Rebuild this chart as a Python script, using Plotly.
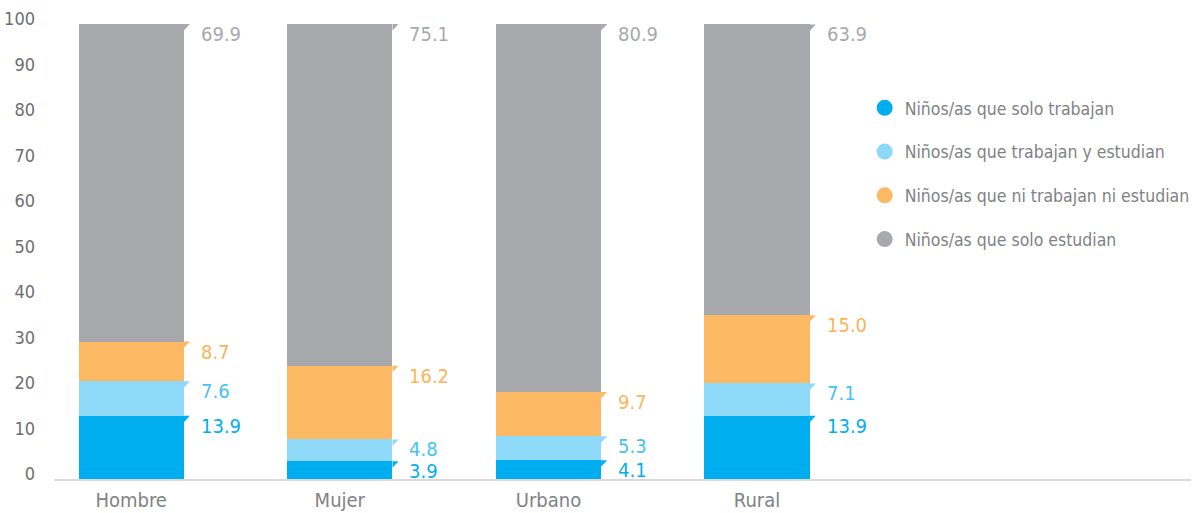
import plotly.graph_objects as go

# Data: percentage of children by activity, per group
categories = ["Hombre", "Mujer", "Urbano", "Rural"]
series_names = [
    "Niños/as que solo trabajan",
    "Niños/as que trabajan y estudian",
    "Niños/as que ni trabajan ni estudian",
    "Niños/as que solo estudian",
]
solo_trabajan = [13.9, 3.9, 4.1, 13.9]
trabajan_estudian = [7.6, 4.8, 5.3, 7.1]
ni_ni = [8.7, 16.2, 9.7, 15.0]
solo_estudian = [69.9, 75.1, 80.9, 63.9]
y_ticks = [0, 10, 20, 30, 40, 50, 60, 70, 80, 90, 100]

series_values = [solo_trabajan, trabajan_estudian, ni_ni, solo_estudian]
bar_colors = ["#00AEEF", "#8ED8F8", "#FDB863", "#A7A9AC"]
label_colors = ["#00AEEF", "#45C3F2", "#FBB45C", "#A7A9AC"]

FONT = "DejaVu Sans Condensed, Liberation Sans Narrow, Roboto, sans-serif"

W, H = 1195, 513
M_L, M_R, M_T, M_B = 54, 4, 24, 34
X_RANGE = [-0.37, 5.08]
Y_RANGE = [0, 100]
BAR_W = 0.505

px_x = (X_RANGE[1] - X_RANGE[0]) / (W - M_L - M_R)   # data units per pixel (x)
px_y = (Y_RANGE[1] - Y_RANGE[0]) / (H - M_T - M_B)   # data units per pixel (y)

x_pos = list(range(len(categories)))

fig = go.Figure()

for name, vals, col in zip(series_names, series_values, bar_colors):
    fig.add_trace(go.Bar(
        x=x_pos, y=vals, name=name, marker=dict(color=col, line=dict(width=0)),
        width=BAR_W, showlegend=False, hoverinfo="y",
    ))

# legend entries with round markers
for k, (name, col) in enumerate(zip(series_names, bar_colors)):
    fig.add_trace(go.Scatter(
        x=[None], y=[None], mode="markers", name=name, legendgroup=f"g{k}",
        marker=dict(color=col, size=19, symbol="circle"),
    ))

# value labels and small flag at the top-right corner of each segment
shapes = []
annotations = []
for i, cat in enumerate(categories):
    base = 0.0
    for vals, lc, bc in zip(series_values, label_colors, bar_colors):
        top = base + vals[i]
        top_c = min(top, Y_RANGE[1])
        xr = x_pos[i] + BAR_W / 2
        shapes.append(dict(
            type="path", xref="x", yref="y", layer="above", line=dict(width=0), fillcolor=bc,
            path=f"M {xr},{top_c} L {xr + 6 * px_x},{top_c} L {xr},{top_c - 6.5 * px_y} Z",
        ))
        annotations.append(dict(
            x=xr, y=top_c, xref="x", yref="y", text=f"{vals[i]:.1f}",
            showarrow=False, xanchor="left", yanchor="middle", xshift=15, yshift=-10,
            font=dict(family=FONT, size=20, color=lc),
        ))
        base = top

fig.update_layout(
    width=W, height=H,
    margin=dict(l=M_L, r=M_R, t=M_T, b=M_B, autoexpand=False),
    barmode="stack", bargap=0,
    plot_bgcolor="white", paper_bgcolor="white",
    font=dict(family=FONT, color="#808285"),
    shapes=shapes, annotations=annotations,
    showlegend=True,
    legend=dict(
        x=0.713, y=0.855, xanchor="left", yanchor="top",
        traceorder="grouped", tracegroupgap=18,
        font=dict(family=FONT, size=17.5, color="#808285"),
        bgcolor="rgba(0,0,0,0)", itemsizing="trace",
    ),
    xaxis=dict(
        range=X_RANGE, tickvals=x_pos, ticktext=categories,
        showgrid=False, zeroline=False, showline=True, linecolor="rgba(0,0,0,0.15)", linewidth=2,
        layer="above traces", ticks="", ticklabelstandoff=2,
        tickfont=dict(family=FONT, size=20, color="#808285"),
    ),
    yaxis=dict(
        range=Y_RANGE, tickvals=y_ticks, showgrid=False, zeroline=False, showline=False,
        ticks="", ticklabelstandoff=18, ticklabelshift=-5,
        tickfont=dict(family=FONT, size=18, color="#6D6E71"),
    ),
)

fig.write_html("out.html")
